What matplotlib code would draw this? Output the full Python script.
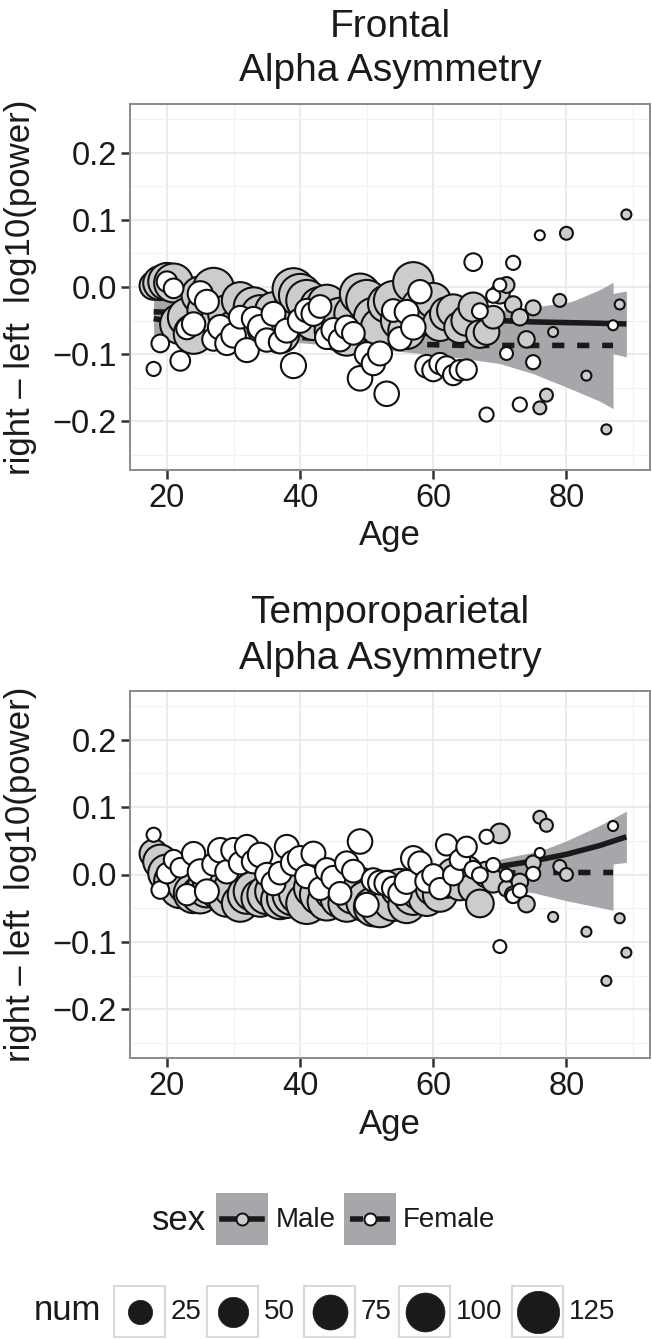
import numpy as np
import matplotlib
matplotlib.use("Agg")
import matplotlib.pyplot as plt
from matplotlib.patches import Rectangle
from matplotlib.lines import Line2D

plt.rcParams['font.family'] = ['Liberation Sans', 'DejaVu Sans']

# ---------------- data ----------------
male_age = list(range(18, 81)) + [83, 86, 88, 89]
male_num = [40, 70, 90, 100, 110, 95, 105, 90, 100, 115, 95, 90, 100, 85, 95, 105,
            90, 100, 85, 95, 105, 120, 125, 115, 100, 110, 95, 90, 100, 85, 95, 110,
            115, 100, 95, 90, 100, 95, 85, 110, 90, 80, 75, 70, 65, 60, 55, 50, 45,
            38, 30, 20, 12, 5, 6, 6, 6, 4, 2, 2, 1, 2, 2, 1, 1, 1, 1]
male_frontal = [0.002, 0.006, 0.008, 0.006, -0.055, -0.045, -0.070, -0.012, -0.035,
                -0.002, -0.050, -0.040, -0.065, -0.020, -0.055, -0.030, -0.040, -0.060,
                -0.035, -0.070, -0.045, -0.003, -0.012, -0.020, -0.050, -0.030, -0.025,
                -0.065, -0.045, -0.075, -0.040, -0.010, -0.020, -0.045, -0.060, -0.025,
                -0.020, -0.050, -0.065, 0.007, -0.030, -0.045, -0.020, -0.055, -0.040,
                -0.035, -0.060, -0.050, -0.030, -0.070, -0.067, -0.045, -0.010, 0.003,
                -0.026, -0.045, -0.078, -0.031, -0.180, -0.161, -0.067, -0.020, 0.080,
                -0.132, -0.212, -0.026, 0.108]
male_tp = [0.031, 0.019, 0.002, -0.010, -0.020, -0.015, -0.028, -0.030, -0.020, -0.012,
           -0.025, -0.035, -0.020, -0.043, -0.030, -0.025, -0.035, -0.030, -0.025, -0.038,
           -0.035, -0.030, -0.028, -0.043, -0.020, -0.030, -0.040, -0.025, -0.035, -0.043,
           -0.030, -0.020, -0.040, -0.048, -0.050, -0.030, -0.040, -0.020, -0.045, -0.030,
           -0.025, -0.035, -0.020, -0.030, -0.010, 0.000, -0.015, 0.005, -0.020, -0.043,
           0.000, -0.010, 0.061, -0.021, -0.030, -0.011, -0.044, 0.017, 0.085, 0.073,
           -0.063, 0.012, 0.000, -0.085, -0.158, -0.065, -0.116]

female_age = list(range(18, 74)) + [75, 76, 87]
female_num = [3, 8, 14, 12, 12, 16, 22, 28, 24, 20, 26, 22, 26, 20, 24, 22, 26, 22, 24,
              20, 24, 28, 26, 22, 24, 20, 22, 24, 20, 22, 20, 26, 24, 22, 24, 26, 20, 22,
              24, 26, 22, 20, 18, 16, 16, 14, 14, 14, 8, 5, 3, 3, 2, 2, 3, 3, 3, 1, 1]
female_frontal = [-0.122, -0.084, 0.008, -0.002, -0.110, -0.062, -0.055, -0.010, -0.022,
                  -0.078, -0.060, -0.084, -0.072, -0.045, -0.094, -0.047, -0.060, -0.079,
                  -0.040, -0.082, -0.065, -0.117, -0.050, -0.035, -0.040, -0.029, -0.075,
                  -0.064, -0.079, -0.060, -0.069, -0.136, -0.100, -0.114, -0.099, -0.159,
                  -0.035, -0.077, -0.037, -0.060, -0.007, -0.118, -0.124, -0.114, -0.119,
                  -0.131, -0.124, -0.123, 0.037, -0.036, -0.190, -0.013, 0.003, -0.099,
                  0.036, -0.175, -0.112, 0.077, -0.057]
female_tp = [0.059, -0.023, 0.002, 0.022, 0.010, -0.030, 0.031, 0.004, -0.025, 0.015,
             0.036, 0.004, 0.036, 0.017, 0.041, 0.019, 0.029, 0.000, -0.013, 0.002, 0.041,
             0.017, 0.024, -0.003, 0.031, -0.021, 0.007, -0.005, -0.028, 0.017, 0.005,
             0.049, -0.045, -0.008, -0.012, -0.013, -0.020, -0.028, -0.011, 0.024, 0.017,
             -0.010, -0.001, -0.021, 0.044, -0.001, 0.022, 0.041, 0.007, -0.001, 0.056,
             0.014, -0.107, -0.001, -0.032, -0.024, 0.001, 0.032, 0.072]

# smooth fits: fitted value and half-width of the band
fit_age_m = [18, 22, 30, 40, 50, 60, 65, 70, 75, 80, 85, 89]
fit_age_f = [18, 22, 30, 40, 50, 60, 65, 70, 75, 80, 85, 87]
frontal_fit_m = [-0.037, -0.038, -0.040, -0.043, -0.045, -0.048, -0.049, -0.050, -0.052, -0.053, -0.054, -0.055]
frontal_se_m = [0.022, 0.014, 0.008, 0.006, 0.006, 0.008, 0.011, 0.015, 0.022, 0.030, 0.041, 0.049]
frontal_fit_f = [-0.047, -0.054, -0.065, -0.075, -0.082, -0.086, -0.087, -0.087, -0.087, -0.087, -0.087, -0.087]
frontal_se_f = [0.035, 0.022, 0.012, 0.008, 0.009, 0.015, 0.020, 0.027, 0.042, 0.062, 0.083, 0.094]
tp_fit_m = [0.015, 0.009, -0.002, -0.009, -0.009, -0.002, 0.004, 0.012, 0.020, 0.030, 0.043, 0.056]
tp_se_m = [0.016, 0.010, 0.005, 0.004, 0.004, 0.005, 0.006, 0.008, 0.011, 0.020, 0.030, 0.038]
tp_fit_f = [0.020, 0.016, 0.011, 0.006, 0.003, 0.001, 0.001, 0.002, 0.003, 0.003, 0.003, 0.003]
tp_se_f = [0.020, 0.013, 0.007, 0.005, 0.005, 0.007, 0.010, 0.021, 0.030, 0.042, 0.052, 0.056]

x_ticks = [20, 40, 60, 80]
y_ticks = [-0.2, -0.1, 0.0, 0.1, 0.2]
y_ticklabels = ['\u22120.2', '\u22120.1', '0.0', '0.1', '0.2']
legend_nums = [25, 50, 75, 100, 125]
sex_labels = ['Male', 'Female']

# ---------------- style ----------------
W, H = 652, 1339
MALE_FILL = '#cccccc'
FEMALE_FILL = '#ffffff'
BAND = '#a5a7aa'
LINE = '#1a1a1a'
TXT = '#1a1a1a'
NUM_MIN, NUM_MAX = 1, 130
D_MIN, D_MAX = 10.0, 43.0  # px diameters
FS_TITLE, FS_TICK, FS_AXIS, FS_LTITLE, FS_LTEXT = 28, 23.5, 25, 25, 20


def diam_px(n):
    n = np.asarray(n, dtype=float)
    return D_MIN + (D_MAX - D_MIN) * np.sqrt((n - NUM_MIN) / (NUM_MAX - NUM_MIN))


def area_pt(n):
    return (diam_px(n) * 0.72) ** 2


fig = plt.figure(figsize=(W / 100, H / 100), dpi=100)


def px_axes(l, t, r, b):
    return fig.add_axes([l / W, 1 - b / H, (r - l) / W, (b - t) / H])


def panel(ax, male_vals, female_vals, fit_m, se_m, fit_f, se_f):
    ax.set_xlim(14.45, 92.55)
    ax.set_ylim(-0.2725, 0.2725)
    ax.set_xticks(x_ticks)
    ax.set_xticks([30, 50, 70, 90], minor=True)
    ax.set_yticks(y_ticks)
    ax.set_yticks([-0.25, -0.15, -0.05, 0.05, 0.15, 0.25], minor=True)
    ax.set_yticklabels(y_ticklabels)
    ax.grid(which='major', color='#e6e6e6', lw=1.1)
    ax.grid(which='minor', color='#f2f2f2', lw=0.9)
    ax.set_axisbelow(True)
    for s in ax.spines.values():
        s.set_color('#8a8a8a')
        s.set_linewidth(1.4)
    ax.tick_params(which='major', length=6.5, width=1.8, color='#333333',
                   labelsize=FS_TICK, labelcolor=TXT, pad=3)
    ax.tick_params(which='minor', length=0)
    fm = np.array(fit_m); sm = np.array(se_m)
    ff = np.array(fit_f); sf = np.array(se_f)
    ax.fill_between(fit_age_m, fm - sm, fm + sm, color=BAND, lw=0, zorder=2)
    ax.fill_between(fit_age_f, ff - sf, ff + sf, color=BAND, lw=0, zorder=2)
    ax.plot(fit_age_m, fm, color=LINE, lw=4.0, solid_capstyle='butt', zorder=3)
    ax.plot(fit_age_f, ff, color=LINE, lw=4.0, dashes=(2.2, 2.3), dash_capstyle='butt', zorder=3)
    ax.scatter(male_age, male_vals, s=area_pt(male_num), facecolor=MALE_FILL,
               edgecolor='#111111', linewidths=1.5, zorder=4)
    ax.scatter(female_age, female_vals, s=area_pt(female_num), facecolor=FEMALE_FILL,
               edgecolor='#111111', linewidths=1.5, zorder=5)
    ax.set_xlabel('Age', fontsize=FS_AXIS, color=TXT)
    ax.xaxis.set_label_coords(0.5, -0.135)
    ax.set_ylabel('right \u2013 left  log10(power)', fontsize=FS_AXIS, color=TXT)
    ax.yaxis.set_label_coords(-0.178, 0.5)


ax1 = px_axes(130, 104, 650, 470)
panel(ax1, male_frontal, female_frontal, frontal_fit_m, frontal_se_m,
      frontal_fit_f, frontal_se_f)
fig.text(390 / W, 1 - 37 / H, 'Frontal', ha='center', va='baseline', fontsize=FS_TITLE, color=TXT)
fig.text(390 / W, 1 - 81 / H, 'Alpha Asymmetry', ha='center', va='baseline', fontsize=FS_TITLE, color=TXT)

ax2 = px_axes(130, 691, 650, 1058)
panel(ax2, male_tp, female_tp, tp_fit_m, tp_se_m, tp_fit_f, tp_se_f)
fig.text(390 / W, 1 - 623 / H, 'Temporoparietal', ha='center', va='baseline', fontsize=FS_TITLE, color=TXT)
fig.text(390 / W, 1 - 669 / H, 'Alpha Asymmetry', ha='center', va='baseline', fontsize=FS_TITLE, color=TXT)

# ---------------- legends ----------------
lax = fig.add_axes([0, 0, 1, 1], zorder=10)
lax.set_xlim(0, W)
lax.set_ylim(H, 0)
lax.axis('off')
lax.patch.set_alpha(0)

# sex legend
lax.text(152, 1220, 'sex', fontsize=FS_LTITLE, va='center', ha='left', color=TXT)
key_x = [216, 344]
lab_x = [276, 403]
fills = [MALE_FILL, FEMALE_FILL]
for i, lab in enumerate(sex_labels):
    kx = key_x[i]
    lax.add_patch(Rectangle((kx, 1193), 52, 52, facecolor=BAND, edgecolor='none'))
    ln = Line2D([kx + 6, kx + 46], [1219, 1219], color=LINE, lw=4.0)
    if i == 1:
        ln.set_dashes((2.34, 2.5))
    lax.add_line(ln)
    lax.scatter([kx + 26], [1219], s=(12 * 0.72) ** 2, facecolor=fills[i],
                edgecolor='#111111', linewidths=1.4, zorder=3)
    lax.text(lab_x[i], 1220, lab, fontsize=FS_LTEXT, va='center', ha='left', color=TXT)

# num legend
lax.text(34, 1311, 'num', fontsize=FS_LTITLE, va='center', ha='left', color=TXT)
box_x = [114, 207, 304, 399, 512]
for i, v in enumerate(legend_nums):
    bx = box_x[i]
    lax.add_patch(Rectangle((bx, 1286), 51, 51, facecolor='white', edgecolor='#d9d9d9', lw=1.5))
    lax.scatter([bx + 25.5], [1311.5], s=area_pt(v), facecolor='#1a1a1a', edgecolor='#1a1a1a',
                linewidths=0.5, zorder=3)
    lax.text(bx + 57, 1312, str(v), fontsize=FS_LTEXT, va='center', ha='left', color=TXT)

fig.savefig('out.png', dpi=100)
